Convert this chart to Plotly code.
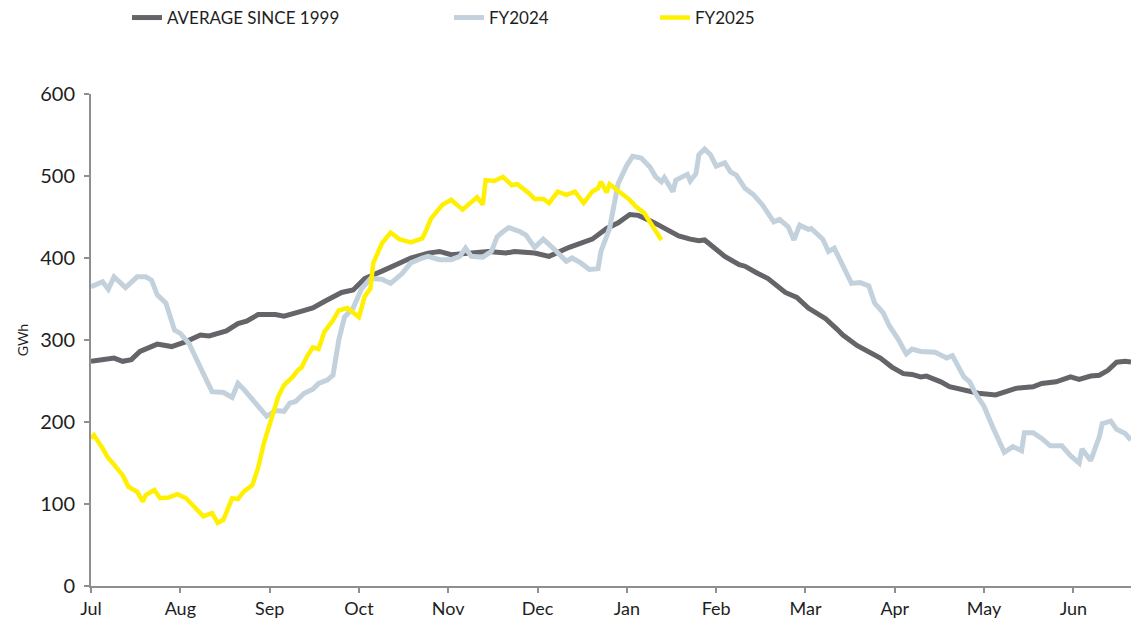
import plotly.graph_objects as go

# ---- data (x = days since 1 July, values in GWh) ----
month_labels = ["Jul", "Aug", "Sep", "Oct", "Nov", "Dec", "Jan", "Feb", "Mar", "Apr", "May", "Jun"]
month_ticks = [0, 31, 62, 93, 124, 155, 186, 217, 248, 279, 310, 341]

avg_days = [0, 6, 8, 11, 14, 17, 23, 28, 33, 38, 41, 47, 51, 54, 58, 64, 67, 72,
            77, 81, 87, 91, 95, 101, 106, 111, 117, 121, 125, 131, 138, 144,
            147, 154, 159, 166, 174, 179, 183, 187, 190, 195, 199, 204, 208, 211, 213, 216,
            220, 225, 227, 231, 235, 241, 245, 249, 255, 259, 261, 266, 269, 274, 278, 282, 285, 288,
            290, 295, 298, 304, 308, 314, 317, 321, 327, 330, 335, 340, 343, 347, 350, 353, 356, 359, 361]
avg_vals = [274, 276, 278, 274, 276, 286, 295, 292, 298, 306, 305, 311, 320, 323, 331, 331, 329, 334,
            339, 347, 358, 361, 375, 384, 392, 400, 406, 408, 404, 406, 408, 406,
            408, 406, 402, 413, 423, 436, 443, 453, 452, 444, 437, 427, 423, 421, 422, 413,
            402, 392, 390, 382, 375, 358, 352, 339, 326, 313, 306, 293, 287, 278, 267, 259, 258, 255,
            256, 249, 243, 238, 235, 233, 237, 241, 243, 247, 249, 255, 252, 256, 257, 263, 273, 274, 273]

fy24_days = [0, 4, 6, 8, 12, 16, 19, 21, 23, 26, 29, 31, 34, 37, 39, 42, 46, 49, 51, 53, 57, 61, 64, 67, 69,
             71, 74, 77, 79, 82, 84, 86, 88, 91, 94, 97, 101, 104, 108, 111, 115, 117, 121, 125, 128, 130,
             132, 136, 139, 141, 143, 145, 149, 151, 154, 157, 161, 165, 167, 170, 173, 176, 177, 180, 183,
             186, 188, 191, 194, 196, 198, 199, 202, 203, 207, 208, 210, 211, 213, 215,
             217, 220, 222, 224, 227, 230, 233, 237, 239, 242, 244, 246, 249, 250, 254, 256, 258, 260, 262,
             264, 267, 270, 272, 275, 277, 280, 283, 285, 288,
             290, 293, 297, 299, 303, 305, 307, 310, 313, 317, 320, 323, 324, 327, 330, 333, 337, 340, 343,
             344, 347, 350, 351, 354, 356, 359, 361]
fy24_vals = [365, 371, 362, 377, 364, 377, 377, 373, 355, 345, 312, 308, 296, 272, 259, 237, 236, 230, 247, 240, 223, 207, 214, 213, 223,
             225, 235, 240, 247, 251, 257, 300, 328, 339, 363, 375, 374, 369, 381, 394, 400, 402, 398, 398, 402, 412,
             402, 401, 408, 426, 432, 437, 432, 428, 413, 423, 410, 396, 400, 394, 386, 387, 408, 436, 491,
             513, 524, 522, 511, 499, 493, 498, 481, 495, 502, 494, 503, 526, 533, 526,
             512, 516, 505, 501, 485, 477, 465, 444, 447, 438, 422, 440, 435, 436, 423, 408, 412, 398, 381,
             369, 370, 366, 345, 333, 318, 302, 283, 289, 286,
             285, 285, 278, 281, 255, 249, 235, 219, 194, 163, 170, 165, 187, 187, 180, 171, 171, 159, 150,
             167, 153, 182, 198, 201, 191, 186, 178]

fy25_days = [0, 1, 4, 6, 8, 11, 13, 16, 18, 19, 22, 24, 27, 30, 33, 35, 38, 39, 42, 44, 46, 49, 51, 53, 56,
             58, 60, 63, 65, 67, 70, 72, 73, 75, 77, 79, 81, 84, 86, 89, 92, 93, 95, 97, 98, 100, 101, 104,
             107, 111, 115, 116, 118, 122, 125, 129, 131, 134, 136, 137, 140, 143,
             146, 148, 152, 154, 157, 159, 162, 165, 168, 171, 174, 176, 177, 179, 180, 184, 187, 189,
             192, 194, 197, 198]
fy25_vals = [180, 184, 168, 156, 148, 135, 121, 115, 103, 111, 117, 107, 108, 112, 107, 99, 87, 85, 89, 77, 81, 107, 106, 115, 123,
             144, 174, 207, 231, 245, 255, 264, 266, 280, 291, 289, 310, 324, 336, 339, 331, 328, 353, 363, 394, 408, 418, 431,
             423, 419, 424, 431, 448, 465, 471, 459, 465, 474, 465, 495, 494, 499,
             489, 490, 479, 472, 472, 467, 481, 477, 481, 467, 481, 485, 493, 480, 490, 479, 471, 463,
             455, 444, 428, 422]

FONT = "Lato"
TXT = "#1e1e1e"

fig = go.Figure()
fig.add_trace(go.Scatter(x=avg_days, y=avg_vals, mode="lines", name="AVERAGE SINCE 1999",
                         line=dict(color="#646469", width=5), legend="legend", showlegend=True))
fig.add_trace(go.Scatter(x=fy24_days, y=fy24_vals, mode="lines", name="FY2024",
                         line=dict(color="#c3d1dc", width=5), legend="legend2", showlegend=True))
fig.add_trace(go.Scatter(x=fy25_days, y=fy25_vals, mode="lines", name="FY2025",
                         line=dict(color="#fff000", width=4.5), legend="legend3", showlegend=True))

leg_common = dict(orientation="h", yanchor="middle", y=1.155, xanchor="left",
                  font=dict(family=FONT, size=17, color=TXT),
                  bgcolor="rgba(0,0,0,0)", itemclick=False)

fig.update_layout(
    width=1131, height=623,
    showlegend=True,
    margin=dict(l=91, r=0, t=94, b=37),
    plot_bgcolor="white", paper_bgcolor="white",
    font=dict(family=FONT, size=19, color=TXT),
    legend=dict(x=0.0346, **leg_common),
    legend2=dict(x=0.3442, **leg_common),
    legend3=dict(x=0.5423, **leg_common),
    xaxis=dict(
        range=[0, 361], tickmode="array", tickvals=month_ticks, ticktext=month_labels,
        showgrid=False, zeroline=False, showline=True, linecolor="#8f8f8f", linewidth=2,
        ticks="outside", ticklen=5, tickcolor="#8f8f8f", tickwidth=2,
        tickfont=dict(family=FONT, size=18, color=TXT),
    ),
    yaxis=dict(
        range=[0, 600], tickvals=[0, 100, 200, 300, 400, 500, 600],
        showgrid=False, zeroline=False, showline=True, linecolor="#8f8f8f", linewidth=2,
        ticks="outside", ticklen=5, tickcolor="#8f8f8f", tickwidth=2,
        ticklabelstandoff=5,
        tickfont=dict(family=FONT, size=20, color=TXT),
        title=dict(text="GWh", font=dict(family=FONT, size=14, color=TXT), standoff=8),
    ),
)

fig.write_html("out.html", config={"displayModeBar": False},
               post_script="document.body.style.margin='0';document.body.style.overflow='hidden';")
